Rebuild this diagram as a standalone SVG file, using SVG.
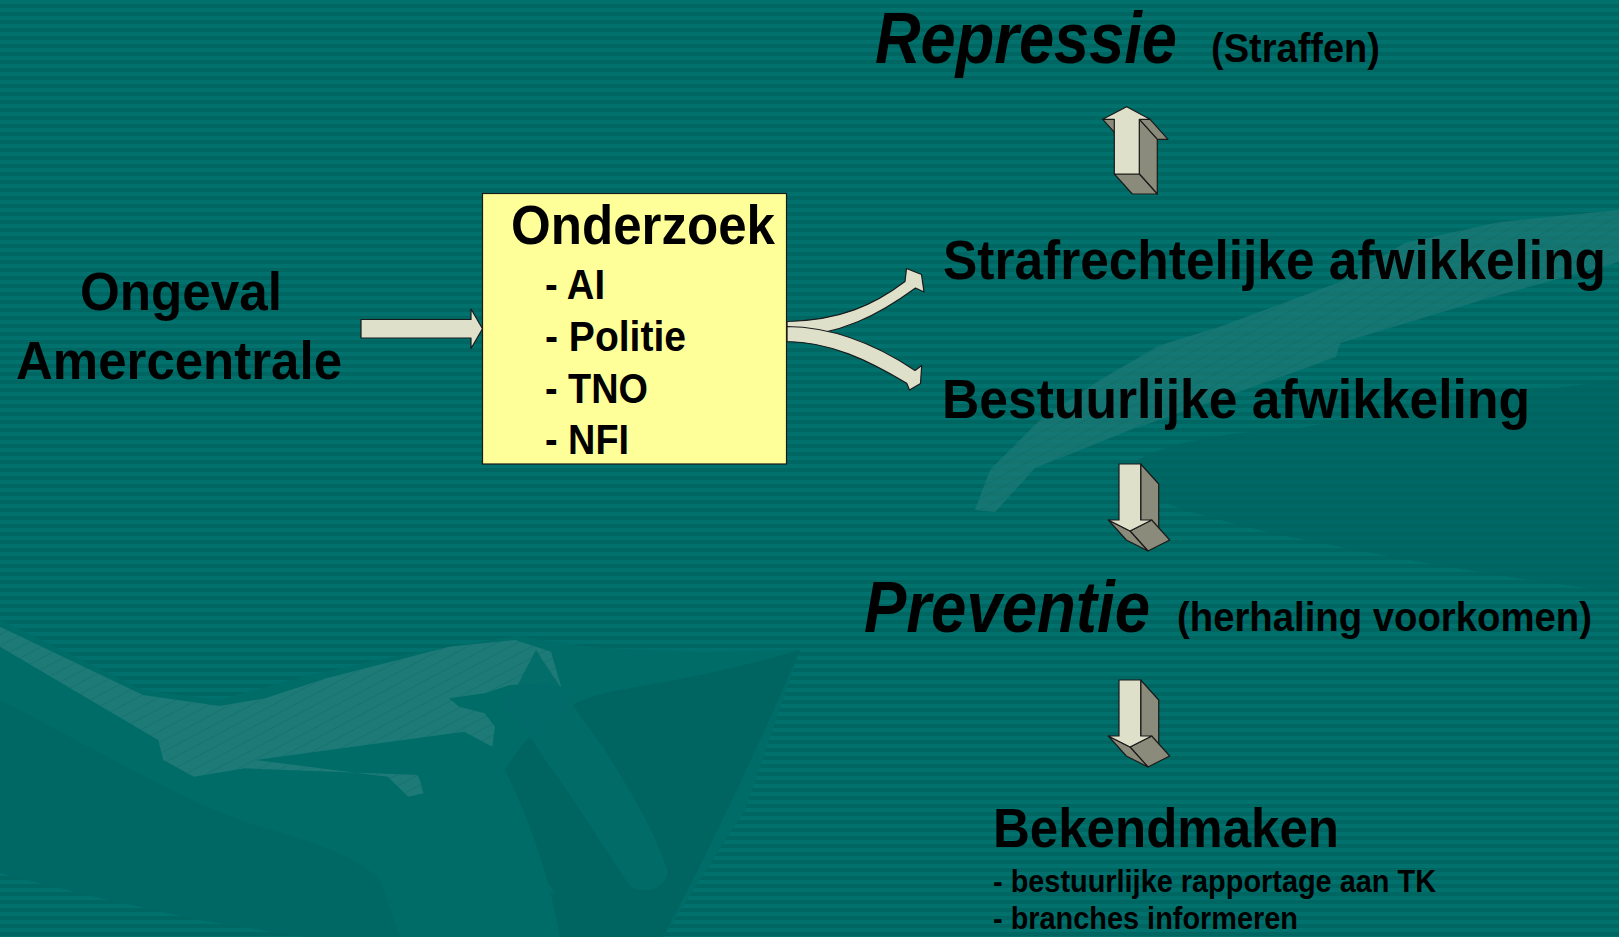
<svg xmlns="http://www.w3.org/2000/svg" width="1619" height="937" viewBox="0 0 1619 937">
<defs>
  <pattern id="stripes" width="8" height="8" patternUnits="userSpaceOnUse">
    <rect width="8" height="8" fill="#00716D"/>
    <rect y="4" width="8" height="4" fill="#006662"/>
  </pattern>
  <pattern id="hatch" width="10" height="10" patternUnits="userSpaceOnUse" patternTransform="rotate(-28)">
    <rect width="10" height="10" fill="#1E7A76"/>
    <rect width="10" height="1" fill="#177370"/>
  </pattern>
  <style>
    .t{font-family:"Liberation Sans",Arial,sans-serif;font-weight:bold;fill:#000}
    .it{font-style:italic}
    .face{fill:#DEE0CA;stroke:#1A1A1A;stroke-width:1.2;stroke-linejoin:round}
    .side{fill:#8B8B7B;stroke:#1A1A1A;stroke-width:1.2;stroke-linejoin:round}
    .med{fill:#006C68}
    .dark{fill:#00635F}
    .light{fill:url(#hatch)}
  </style>
</defs>

<g id="background">
  <rect width="1619" height="937" fill="url(#stripes)"/>
  <!-- bottom-left watermark -->
  <path class="med" d="M0,620 L143,690 L219,700 L306,676 L398,656 L515,636 L600,648 L700,652 L800,650 L745,810 L663,937 L306,937 L200,920 L100,898 L0,873 Z"/>
  <path class="dark" opacity="0.8" d="M800,650 C770,720 720,830 663,937 L560,937 C550,880 530,820 505,770 C530,730 560,700 620,690 C680,680 740,668 800,650 Z"/>
  <path class="dark" opacity="0.45" d="M0,700 C80,740 160,790 240,820 C300,840 350,850 380,880 L400,937 L306,937 L200,920 L100,898 L0,873 Z"/>
  <path class="light" d="M0,626.7 L142.9,695 L219.4,706 L265.3,698.3 L326.5,678.3 L398,660 L449,646.7 L515.3,640 L551,651.7 L561.2,686.7 L548,683.3 L510.2,685 L484.7,693.3 L449,698.3 L459.2,706.7 L484.7,713.3 L494.9,726.7 L492.3,746.7 L464.3,731.7 L255.1,760 L387.8,776.7 L408.2,796.7 L423.5,793.3 L418.4,775 L244.9,768.3 L193.9,776.7 L163.3,760 L158.2,740 L0,646.7 Z"/>
  <path class="med" opacity="0.9" d="M536,650 C555,680 580,715 605,750 C630,790 655,830 668,872 C665,890 645,895 630,886 C605,850 575,800 545,760 C530,735 512,712 500,705 L515,690 Z"/>
  <path class="med" d="M413,766 L423,755 L444,771 L464,773 L490,757 L500,767 L520,820 L536,870 L556,893 L520,892 L495,860 L475,800 L440,790 L425,790 Z"/>
  <!-- right watermark -->
  <path class="dark" opacity="0.6" d="M1619,380 C1520,392 1400,410 1300,428 C1220,432 1150,445 1125,470 C1130,500 1200,515 1280,535 C1380,555 1500,578 1619,592 Z"/>
  <path class="light" opacity="0.7" d="M1619,210 L1500,222 L1405,243 L1340,282 L1222,326 L1158,346 L1100,380 L1040,420 L990,470 L975,510 L995,512 L1035,468 L1130,430 L1250,388 L1336,357 L1340,343 L1492,297 L1619,262 Z"/>
</g>

<g id="connectors">
  <!-- Ongeval -> Onderzoek -->
  <path class="face" d="M361,319.5 L471,319.5 L471,309 L482.5,328.7 L471,348.5 L471,338 L361,338 Z"/>
  <!-- Onderzoek -> Strafrechtelijke (behind) -->
  <path class="face" d="M787,321.5 C840,320.5 874,305 905,281.5 L906.5,268.5 L921.5,274.5 L924,292 L915.5,288 C880,314 840,336 787,336.5 Z"/>
  <!-- Onderzoek -> Bestuurlijke -->
  <path class="face" d="M787,326.5 C832,327 874,343 915,370.5 L921.7,365.5 L920.5,383.5 L909.5,390 L906.7,383.3 C868,360 830,342 787,341.5 Z"/>
  <!-- 3D up arrow: Strafrechtelijke -> Repressie -->
  <g id="arrow-up">
    <path class="side" d="M1150,119.3 L1139.3,119.3 L1157.3,139.3 L1168,139.3 Z"/>
    <path class="side" d="M1139.3,119.3 L1139.3,174 L1157.3,194 L1157.3,139.3 Z"/>
    <path class="side" d="M1139.3,174 L1114.3,174 L1132.3,194 L1157.3,194 Z"/>
    <path class="side" d="M1114.3,119.3 L1102.7,119.3 L1120.7,139.3 L1132.3,139.3 Z"/>
    <path class="face" d="M1126.7,106.7 L1150,119.3 L1139.3,119.3 L1139.3,174 L1114.3,174 L1114.3,119.3 L1102.7,119.3 Z"/>
  </g>
  <!-- 3D down arrow: Bestuurlijke -> Preventie -->
  <g id="arrow-down-1">
    <path class="side" d="M1140.7,464 L1140.7,520 L1158.7,540 L1158.7,484 Z"/>
    <path class="side" d="M1151.7,520 L1130,531 L1148,551 L1169.7,540 Z"/>
    <path class="side" d="M1130,531 L1108.3,520 L1126.3,540 L1148,551 Z"/>
    <path class="face" d="M1119,464 L1140.7,464 L1140.7,520 L1151.7,520 L1130,531 L1108.3,520 L1119,520 Z"/>
  </g>
  <!-- 3D down arrow: Preventie -> Bekendmaken -->
  <g id="arrow-down-2" transform="translate(0,216)">
    <path class="side" d="M1140.7,464 L1140.7,520 L1158.7,540 L1158.7,484 Z"/>
    <path class="side" d="M1151.7,520 L1130,531 L1148,551 L1169.7,540 Z"/>
    <path class="side" d="M1130,531 L1108.3,520 L1126.3,540 L1148,551 Z"/>
    <path class="face" d="M1119,464 L1140.7,464 L1140.7,520 L1151.7,520 L1130,531 L1108.3,520 L1119,520 Z"/>
  </g>
</g>

<g id="ongeval">
  <text class="t" x="80" y="310" font-size="53" textLength="202" lengthAdjust="spacingAndGlyphs">Ongeval</text>
  <text class="t" x="16" y="379" font-size="53" textLength="326" lengthAdjust="spacingAndGlyphs">Amercentrale</text>
</g>

<g id="onderzoek">
  <rect x="482.5" y="193.5" width="304" height="270.5" fill="#FFFF99" stroke="#1A1A1A" stroke-width="1.2"/>
  <text class="t" x="511" y="244" font-size="55" textLength="264" lengthAdjust="spacingAndGlyphs">Onderzoek</text>
  <text class="t" x="545" y="299" font-size="43" textLength="60" lengthAdjust="spacingAndGlyphs">- AI</text>
  <text class="t" x="545" y="351" font-size="43" textLength="141" lengthAdjust="spacingAndGlyphs">- Politie</text>
  <text class="t" x="545" y="402.5" font-size="43" textLength="103" lengthAdjust="spacingAndGlyphs">- TNO</text>
  <text class="t" x="545" y="454" font-size="43" textLength="84" lengthAdjust="spacingAndGlyphs">- NFI</text>
</g>

<g id="repressie">
  <text class="t it" x="875" y="63" font-size="72" textLength="302" lengthAdjust="spacingAndGlyphs">Repressie</text>
  <text class="t" x="1211" y="62" font-size="40" textLength="169" lengthAdjust="spacingAndGlyphs">(Straffen)</text>
</g>

<g id="strafrechtelijke">
  <text class="t" transform="translate(943,279) scale(0.935,1)" x="0" y="0" font-size="55">Strafrechtelijke afwikkeling</text>
</g>

<g id="bestuurlijke">
  <text class="t" x="942" y="418" font-size="55" textLength="588" lengthAdjust="spacingAndGlyphs">Bestuurlijke afwikkeling</text>
</g>

<g id="preventie">
  <text class="t it" x="864" y="632" font-size="72" textLength="286" lengthAdjust="spacingAndGlyphs">Preventie</text>
  <text class="t" x="1177" y="631" font-size="40" textLength="415" lengthAdjust="spacingAndGlyphs">(herhaling voorkomen)</text>
</g>

<g id="bekendmaken">
  <text class="t" x="993" y="847" font-size="56" textLength="346" lengthAdjust="spacingAndGlyphs">Bekendmaken</text>
  <text class="t" x="993" y="892" font-size="31" textLength="443" lengthAdjust="spacingAndGlyphs">- bestuurlijke rapportage aan TK</text>
  <text class="t" x="993" y="929" font-size="31" textLength="305" lengthAdjust="spacingAndGlyphs">- branches informeren</text>
</g>
</svg>
